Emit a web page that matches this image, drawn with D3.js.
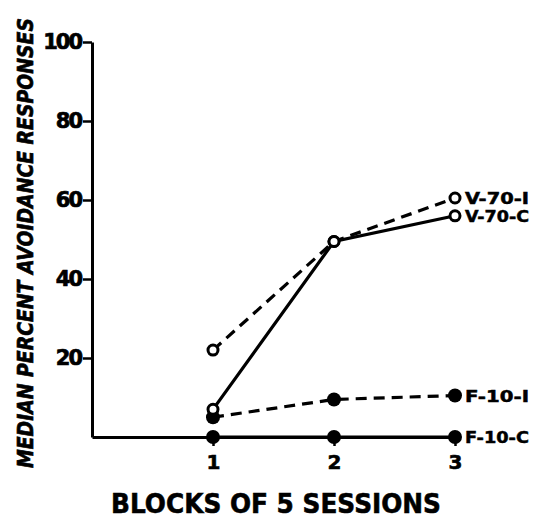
<!DOCTYPE html>
<html><head><meta charset="utf-8">
<script src="https://cdn.jsdelivr.net/npm/d3@7"></script>
<style>body{margin:0;background:#fff}svg{display:block}</style>
</head><body>
<script>
const blocks = [1, 2, 3];
const yTicks = [20, 40, 60, 80, 100];
const seriesNames = ["V-70-I", "V-70-C", "F-10-I", "F-10-C"];
const v70I = [22, 49.5, 60.5];
const v70C = [7, 49.5, 56];
const f10I = [5, 9.5, 10.5];
const f10C = [0, 0, 0];
const xTitle = "BLOCKS OF 5 SESSIONS";
const yTitle = "MEDIAN PERCENT AVOIDANCE RESPONSES";

const series = [
  {name: seriesNames[0], values: v70I, dashed: true, open: true},
  {name: seriesNames[1], values: v70C, dashed: false, open: true},
  {name: seriesNames[2], values: f10I, dashed: true, open: false},
  {name: seriesNames[3], values: f10C, dashed: false, open: false}
];

const W = 539, H = 524;
const svg = d3.select("body").append("svg").attr("width", W).attr("height", H);
const x = d3.scaleLinear().range([92, 455]);
x.domain([1 - (213 - 92) / ((455 - 213) / 2), 3]);
const y = d3.scaleLinear().domain([0, 100]).range([437, 42]);
const font = "'DejaVu Sans', sans-serif";

// y axis
const yAxis = d3.axisLeft(y).tickValues(yTicks).tickSize(9).tickSizeOuter(0).tickPadding(2);
const ga = svg.append("g").attr("transform", `translate(${x.range()[0]},0)`).call(yAxis);
ga.select(".domain").attr("stroke", "#000").attr("stroke-width", 3);
ga.selectAll(".tick line").attr("stroke", "#000").attr("stroke-width", 2.5);
ga.selectAll(".tick text").attr("font-family", font).attr("font-weight", "bold")
  .attr("font-size", 21).attr("fill", "#000").attr("stroke", "#000").attr("stroke-width", 0.7)
  .attr("letter-spacing", -2);

// x axis line and ticks
const xa = d3.axisBottom(x).tickValues(blocks).tickSize(9).tickSizeOuter(0).tickPadding(9).tickFormat(d3.format("d"));
const gx = svg.append("g").attr("transform", `translate(0,${y(0)})`).call(xa);
gx.select(".domain").attr("stroke", "#000").attr("stroke-width", 3);
gx.selectAll(".tick line").attr("stroke", "#000").attr("stroke-width", 2.5);
gx.selectAll(".tick text").attr("font-family", font).attr("font-weight", "bold")
  .attr("font-size", 20).attr("fill", "#000").attr("stroke", "#000").attr("stroke-width", 0.6);

// titles
svg.append("text").attr("x", 276).attr("y", 513).attr("text-anchor", "middle")
  .attr("font-family", font).attr("font-weight", "bold").attr("font-size", 27)
  .attr("stroke", "#000").attr("stroke-width", 0.6)
  .attr("textLength", 330).attr("lengthAdjust", "spacingAndGlyphs").text(xTitle);
svg.append("text").attr("transform", "translate(33,243) rotate(-90) scale(1,1.15)").attr("text-anchor", "middle")
  .attr("font-family", font).attr("font-weight", "bold").attr("font-style", "italic").attr("font-size", 19)
  .attr("stroke", "#000").attr("stroke-width", 0.6)
  .attr("textLength", 450).attr("lengthAdjust", "spacingAndGlyphs").text(yTitle);

// lines
const line = d3.line().x((d, i) => x(blocks[i])).y(d => y(d));
series.forEach(s => {
  svg.append("path").datum(s.values).attr("d", line).attr("fill", "none")
    .attr("stroke", "#000").attr("stroke-width", 3.2)
    .attr("stroke-dasharray", s.dashed ? "11,7" : null);
});
// markers: filled first then open on top
[...series].reverse().forEach(s => {
  svg.append("g").selectAll("circle").data(s.values).join("circle")
    .attr("cx", (d, i) => x(blocks[i])).attr("cy", d => y(d))
    .attr("r", s.open ? 5 : 7)
    .attr("fill", s.open ? "#fff" : "#000")
    .attr("stroke", "#000").attr("stroke-width", s.open ? 3 : 0);
  svg.append("text").attr("x", x(3) + 10).attr("y", y(s.values[2]) + 6)
    .attr("font-family", font).attr("font-weight", "bold").attr("font-size", 16)
    .attr("stroke", "#000").attr("stroke-width", 0.5)
    .attr("textLength", 64).attr("lengthAdjust", "spacingAndGlyphs")
    .text(s.name);
});
</script>
</body></html>
